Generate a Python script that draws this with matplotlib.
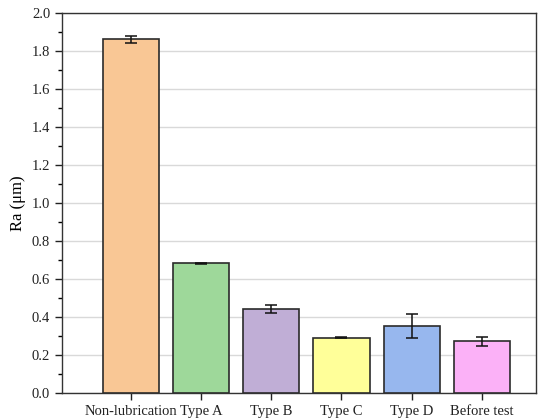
import numpy as np
import matplotlib.pyplot as plt

plt.rcParams['font.family'] = ['Liberation Serif', 'DejaVu Serif']

groups = ['Non-lubrication', 'Type A', 'Type B', 'Type C', 'Type D', 'Before test']
ra_mean = [1.86, 0.68, 0.44, 0.29, 0.35, 0.27]
ra_err = [0.018, 0.003, 0.02, 0.004, 0.062, 0.024]
colors = ['#F9C795', '#9ED89A', '#C0AED6', '#FFFF99', '#97B7EE', '#FBB1F7']

fig = plt.figure(figsize=(5.41, 4.20), dpi=100)
ax = fig.add_axes([0.1146, 0.065, 0.8762, 0.9048])

x = np.arange(1, len(groups) + 1)
ax.bar(x, ra_mean, width=0.8, color=colors, edgecolor='#2b2b2b', linewidth=1.2,
       yerr=ra_err, capsize=4, error_kw=dict(ecolor='#111111', elinewidth=1.1, capthick=1.1),
       zorder=3)

ax.set_xlim(0.02, 6.77)
ax.set_ylim(0, 2.0)
ax.set_yticks(np.arange(0, 2.01, 0.2))
ax.set_yticks(np.arange(0.1, 2.0, 0.2), minor=True)
ax.yaxis.set_major_formatter(plt.FormatStrFormatter('%.1f'))
ax.set_xticks(x)
ax.set_xticklabels(groups)
ax.grid(axis='y', color='#d9d9d9', linewidth=1.0, zorder=0)
ax.set_ylabel('Ra (μm)', fontsize=12)
ax.tick_params(axis='both', which='major', direction='out', length=5, width=1.0, labelsize=10.5, colors='#222222')
ax.tick_params(axis='y', which='minor', direction='out', length=3, width=1.0)
for s in ax.spines.values():
    s.set_color('#333333')
    s.set_linewidth(1.0)

fig.savefig('out.png', dpi=100)
